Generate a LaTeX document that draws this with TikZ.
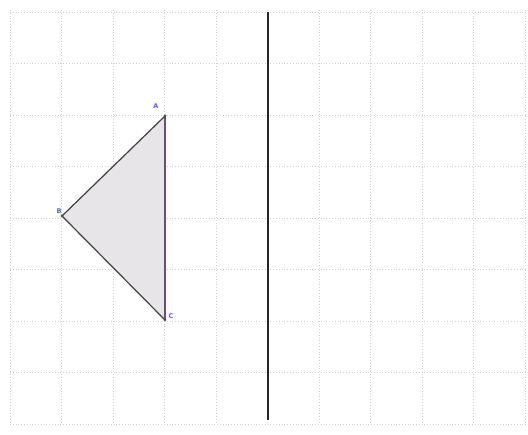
\documentclass[tikz,border=0pt]{standalone}
\usepackage{fontspec}
\setmainfont{DejaVu Sans}
\begin{document}
\begin{tikzpicture}[x=1pt,y=-1pt,
  gridline/.style={draw=black!18, line width=0.8pt, dotted},
  vert/.style={circle, fill=black!70, inner sep=0pt, minimum size=3pt},
  lbl/.style={text=blue!65, font=\bfseries\fontsize{6.5}{7}\selectfont, inner sep=0.5pt},
  edge/.style={draw=black!75, line width=1.2pt},
  mirror/.style={draw=black!85, line width=1.6pt}]
\useasboundingbox (0,0) rectangle (528,435);
\fill[white] (0,0) rectangle (528,435);
% grid
\foreach \i in {0,...,10} {
  \draw[gridline] (10+51.5*\i,10) -- (10+51.5*\i,424);
}
\foreach \j in {0,...,8} {
  \draw[gridline] (10,12+51.5*\j) -- (528,12+51.5*\j);
}
% triangle
\coordinate (A) at (165,116);
\coordinate (B) at (62,216);
\coordinate (C) at (165,320);
\fill[fill=violet!10!black!10] (A) -- (B) -- (C) -- cycle;
\draw[edge] (A) -- (B);
\draw[edge] (B) -- (C);
\draw[draw=violet!40!black!70, line width=1.2pt] (A) -- (C);
\node[vert] (pA) at (A) {};
\node[vert] (pB) at (B) {};
\node[vert] (pC) at (C) {};
\node[lbl] (lA) at (156,106) {A};
\node[lbl] (lB) at (59,211) {B};
\node[lbl] (lC) at (171,316) {C};
% mirror line
\coordinate (M1) at (268,12);
\coordinate (M2) at (268,420);
\draw[mirror] (M1) -- (M2);
\end{tikzpicture}
\end{document}
